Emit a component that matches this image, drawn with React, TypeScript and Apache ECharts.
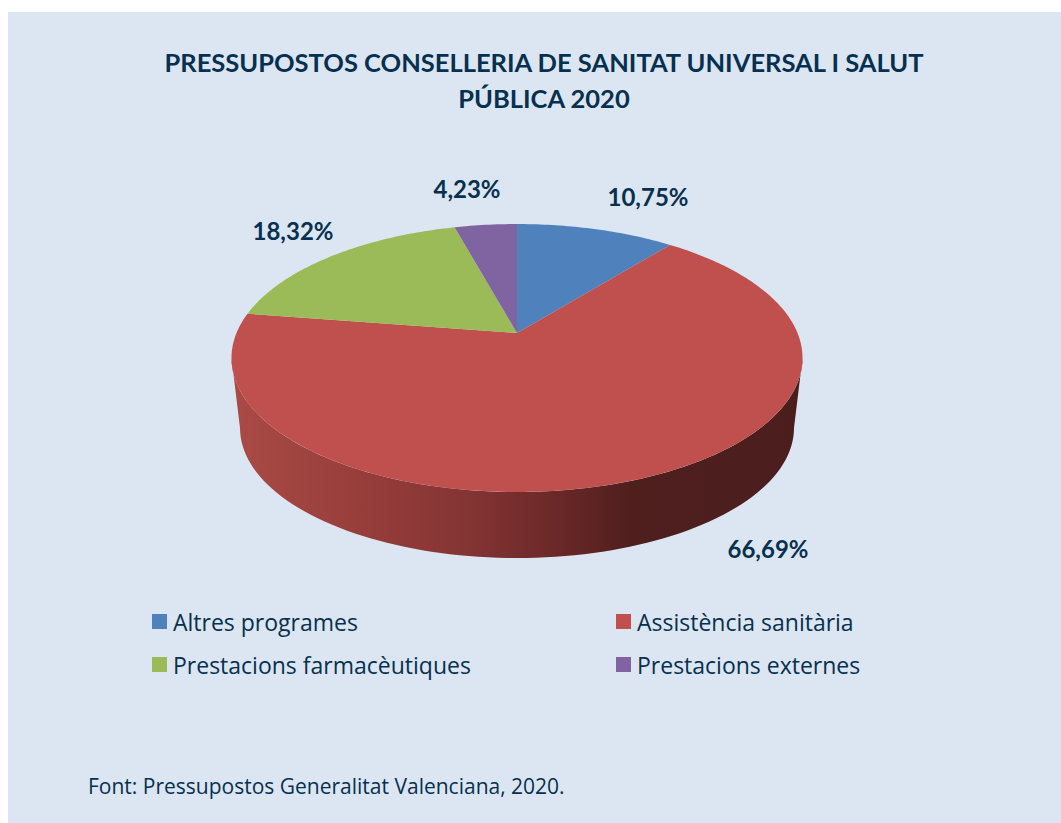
import React, { useEffect, useRef } from "react";
import * as echarts from "echarts";

const categories = ["Altres programes", "Assistència sanitària", "Prestacions farmacèutiques", "Prestacions externes"];
const shares = [10.75, 66.69, 18.32, 4.23];
const labels = ["10,75%", "66,69%", "18,32%", "4,23%"];
const colors = ["#4f81bd", "#c0504d", "#9bbb59", "#8064a2"];
const titleText = "PRESSUPOSTOS CONSELLERIA DE SANITAT UNIVERSAL I SALUT\nPÚBLICA 2020";
const sourceText = "Font: Pressupostos Generalitat Valenciana, 2020.";

const labelCenters = [[648, 196], [768, 548], [293, 230.5], [467, 188]];
const FONT = "Lato";
const BODY_FONT = "Open Sans";
const INK = "#06304f";
const total = shares.reduce((a, b) => a + b, 0);

// Projection of the pie's disc seen in perspective
const CX = 517, CY = 333, A = 280.5, B = 129.3, K = 0.1866;
function project(theta: number): number[] {
  const u = Math.sin(theta), v = Math.cos(theta), w = 1 + K * v;
  return [CX + (A * u) / w, CY - (B * v) / w];
}
// Front rim of the slice: lower edge of the cylinder
const RIM_CY = 428, RIM_RX = 277, RIM_RY = 130, TOP_CY = 358, TOP_RX = 285.5, TOP_RY = 134;

function sidePoints(): number[][] {
  const pts: number[][] = [];
  const n = 90;
  for (let i = 0; i <= n; i++) {
    const t = (Math.PI * i) / n;
    pts.push([CX + TOP_RX * Math.cos(t), TOP_CY + TOP_RY * Math.sin(t)]);
  }
  for (let i = n; i >= 0; i--) {
    const t = (Math.PI * i) / n;
    pts.push([CX + RIM_RX * Math.cos(t), RIM_CY + RIM_RY * Math.sin(t)]);
  }
  return pts;
}

function makeRenderItem(index: number) {
  const before = shares.slice(0, index).reduce((a, b) => a + b, 0);
  return (_params: any, api: any) => {
    const value = api.value(0);
    const start = (before / total) * 2 * Math.PI;
    const end = ((before + value) / total) * 2 * Math.PI;
    const steps = Math.max(4, Math.ceil((end - start) * 60));
    const pts: number[][] = [[CX, CY]];
    for (let i = 0; i <= steps; i++) pts.push(project(start + ((end - start) * i) / steps));
    const children: any[] = [];
    if (index === 1) {
      children.push({
        type: "polygon",
        shape: { points: sidePoints() },
        style: {
          fill: new echarts.graphic.LinearGradient(235, 0, 800, 0, [
            { offset: 0, color: "#a94a45" },
            { offset: 0.2, color: "#993f3c" },
            { offset: 0.4, color: "#853534" },
            { offset: 0.55, color: "#6e2a29" },
            { offset: 0.7, color: "#4f1f1e" },
            { offset: 1, color: "#4b1e1e" },
          ], true),
        },
      });
    }
    children.push({ type: "polygon", shape: { points: pts }, style: { fill: colors[index] } });
    children.push({
      type: "text",
      x: labelCenters[index][0],
      y: labelCenters[index][1],
      style: {
        text: labels[index],
        align: "center",
        verticalAlign: "middle",
        fontFamily: FONT,
        fontWeight: "bold",
        fontSize: 24,
        fill: INK,
      },
    });
    return { type: "group", children };
  };
}

export default function App() {
  const ref = useRef<HTMLDivElement>(null);
  useEffect(() => {
    document.body.style.margin = "0";
    const chart = echarts.init(ref.current!, undefined, { renderer: "svg" });
    const legendBase = {
      orient: "vertical" as const,
      top: 610,
      itemWidth: 15,
      itemHeight: 15,
      itemGap: 20,
      icon: "rect",
      padding: 0,
      selectedMode: false,
      textStyle: { fontFamily: BODY_FONT, fontSize: 23, color: INK, padding: [0, 0, 0, 1] },
    };
    chart.setOption({
      animation: false,
      color: colors,
      backgroundColor: "#ffffff",
      title: [
        {
          text: titleText,
          left: 544,
          top: 44,
          textAlign: "center",
          padding: 0,
          textStyle: { fontFamily: FONT, fontWeight: "bold", fontSize: 25.5, lineHeight: 36, color: INK },
        },
        {
          text: sourceText,
          left: 88,
          top: 775,
          padding: 0,
          textStyle: { fontFamily: BODY_FONT, fontWeight: "normal", fontSize: 21, color: INK },
        },
      ],
      legend: [
        { ...legendBase, left: 152, data: [categories[0], categories[2]] },
        { ...legendBase, left: 616, data: [categories[1], categories[3]] },
      ],
      graphic: [
        { type: "rect", z: -10, silent: true, shape: { x: 8, y: 12, width: 1053, height: 811 }, style: { fill: "#dce6f2" } },
      ],
      series: categories.map((name, i) => ({
        type: "custom",
        name,
        coordinateSystem: "none",
        renderItem: makeRenderItem(i),
        data: [[shares[i]]],
      })),
    });
    return () => chart.dispose();
  }, []);
  return <div ref={ref} style={{ position: "absolute", left: 0, top: 0, width: 1061, height: 823 }} />;
}
